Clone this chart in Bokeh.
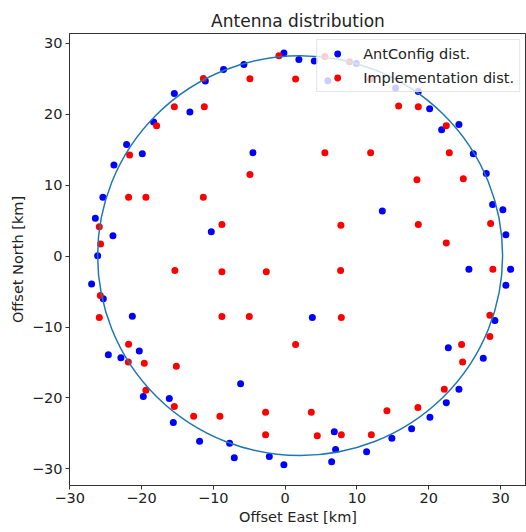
from bokeh.plotting import figure
from bokeh.models import FixedTicker, Range1d
from bokeh.embed import file_html
from bokeh.resources import INLINE

# AntConfig distribution (km)
ant_east = [-0.17, -5.74, -8.57, -11.11, -15.43, -13.26, -18.31, -22.08, -19.89, -23.84,
            -4.48, -25.38, -26.43, -23.98, -10.28, -26.11, 1.92, 4.07, 9.92, 5.96,
            15.39, 18.55, 20.13, 21.80, 24.21, 26.21, 28.02, 28.90, 30.33, 30.75,
            31.41, 25.60, 13.54, -26.95, -25.32, -21.28, -24.62, -22.87, -20.31, -19.75,
            -16.13, -6.20, -15.57, -11.91, -7.73, -7.08, -2.20, -0.17, 30.75, 3.79,
            29.22, 22.73, 27.60, 24.21, 22.45, 20.17, 17.62, 14.87, 11.35, 6.85,
            7.03, 6.48]
ant_north = [28.65, 27.04, 26.34, 24.70, 22.95, 20.33, 18.92, 15.76, 14.45, 12.86,
             14.59, 8.29, 5.33, 2.89, 3.45, 0.07, 27.75, 27.52, 27.18, 24.74,
             23.71, 23.23, 20.80, 17.83, 18.58, 14.45, 11.67, 7.30, 6.56, 3.03,
             -1.86, -1.86, 6.37, -3.92, -6.03, -8.49, -13.93, -14.35, -13.37, -19.81,
             -20.09, -18.02, -23.47, -26.11, -26.39, -28.45, -28.27, -29.44, -4.12, -8.67,
             -9.09, -12.94, -14.41, -18.78, -20.70, -22.73, -24.36, -25.69, -27.60, -24.79,
             -27.28, -29.01]

# Implementation distribution (km)
impl_east = [-0.86, -11.39, -4.90, -15.43, -11.25, -17.90, -21.66, -4.90, -21.80, -19.39,
             -11.39, -8.80, -25.88, -25.70, -15.35, -8.80, -2.62, 1.46, 5.54, 8.98,
             15.81, 18.55, 22.45, 5.54, 11.91, 22.87, 18.36, 24.82, 7.77, 18.55,
             28.62, 22.45, 7.73, 28.94, -25.74, -25.88, -21.80, -21.84, -19.61, -15.15,
             -19.39, -15.43, -12.74, -9.08, -2.72, -2.72, -8.80, -4.99, 7.83, 1.46,
             28.52, 28.52, 24.58, 24.72, 22.17, 3.65, 14.18, 18.50, 4.48, 7.83,
             12.01, 11.91]
impl_north = [28.27, 25.07, 25.02, 21.08, 21.08, 18.40, 14.27, 11.53, 8.29, 8.29,
              8.29, 4.48, 4.16, 1.72, -2.04, -2.19, -2.19, 24.98, 28.17, 27.42,
              21.18, 21.08, 18.40, 14.59, 14.59, 14.59, 10.79, 10.93, 4.34, 4.48,
              4.62, 1.86, -2.04, -1.86, -5.57, -8.67, -12.43, -14.92, -15.11, -15.54,
              -18.92, -21.22, -22.59, -22.59, -22.02, -25.21, -8.53, -8.53, -8.67, -12.48,
              -8.35, -11.35, -12.48, -14.92, -18.78, -22.02, -21.82, -21.36, -25.35, -25.21,
              -25.21, 24.98]

# Reference circle
circle_cx = [2.09]
circle_cy = [0.07]
circle_r = 28.2

ticks = [-30, -20, -10, 0, 10, 20, 30]
tick_labels = {t: (("\u2212" + str(abs(t))) if t < 0 else str(t)) for t in ticks}

FONT = "DejaVu Sans"

p = figure(width=526, height=530, output_backend="svg", toolbar_location=None,
           x_range=Range1d(-30.03, 33.62), y_range=Range1d(-32.36, 31.41),
           min_border_left=69, min_border_right=0, min_border_top=33, min_border_bottom=45,
           title="Antenna distribution")

p.title.text_font = FONT
p.title.text_font_size = "17px"
p.title.text_font_style = "normal"
p.title.align = "center"
p.title.text_color = "#222222"
p.title.offset = 0
p.title.standoff = 5

p.grid.visible = False
p.outline_line_color = "#333333"
p.outline_line_width = 1
p.background_fill_color = "white"
p.border_fill_color = "white"

for ax in (p.xaxis, p.yaxis):
    ax.ticker = FixedTicker(ticks=ticks)
    ax.major_label_overrides = tick_labels
    ax.major_label_text_font = FONT
    ax.major_label_text_font_size = "14.5px"
    ax.major_label_text_color = "#222222"
    ax.axis_label_text_font = FONT
    ax.axis_label_text_font_size = "14.5px"
    ax.axis_label_text_font_style = "normal"
    ax.axis_label_text_color = "#222222"
    ax.minor_tick_line_color = None
    ax.major_tick_out = 4
    ax.major_tick_in = 0
    ax.major_tick_line_color = "#333333"
    ax.axis_line_color = "#333333"
    ax.major_label_standoff = 3
    ax.axis_label_standoff = 3

p.xaxis.axis_label = "Offset East [km]"
p.yaxis.axis_label = "Offset North [km]"

p.scatter(ant_east, ant_north, size=7, fill_color="#0000ff", line_color=None,
          legend_label="AntConfig dist.")
p.scatter(impl_east, impl_north, size=7, fill_color="#ff0000", line_color=None,
          legend_label="Implementation dist.")

p.ellipse(x=circle_cx, y=circle_cy, width=2 * circle_r, height=2 * circle_r,
          fill_color=None, line_color="#1f77b4", line_width=1.5)

lg = p.legend[0]
lg.location = "top_right"
lg.margin = 6
lg.padding = 5
lg.spacing = 7
lg.glyph_width = 30
lg.glyph_height = 17
lg.label_height = 17
lg.label_standoff = 11
lg.label_text_font = FONT
lg.label_text_font_size = "14.5px"
lg.label_text_color = "#222222"
lg.border_line_color = "#cccccc"
lg.border_line_width = 1
lg.background_fill_alpha = 0.8

open("out.html", "w").write(file_html(p, INLINE))
